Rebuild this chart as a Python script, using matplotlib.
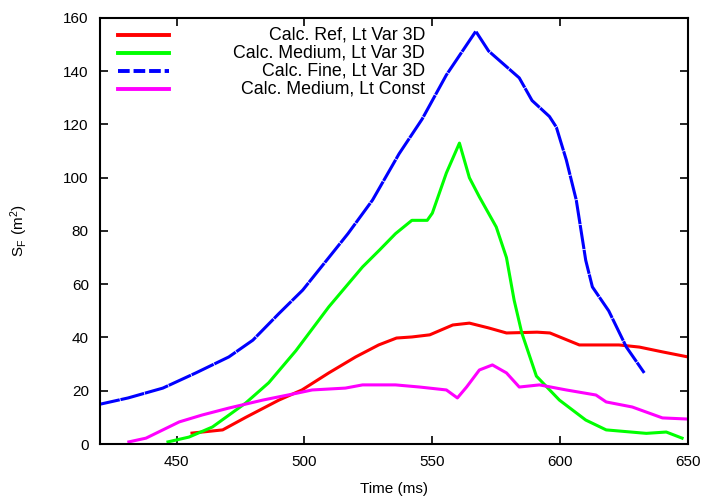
import numpy as np
import matplotlib.pyplot as plt

plt.rcParams['font.family'] = ['Liberation Sans', 'DejaVu Sans']
plt.rcParams['mathtext.fontset'] = 'custom'
plt.rcParams['mathtext.rm'] = 'Liberation Sans'

# courbes (temps en ms, surface en m2)
t_ref = [456, 468, 477, 490, 499, 509.5, 520, 529, 536, 542, 549, 558, 564.5,
         572, 579, 591, 596, 607.5, 623, 631, 640, 650]
s_ref = [4.1, 5.3, 10, 16.5, 20.3, 26.7, 32.7, 37.2, 39.8, 40.2, 41, 44.7, 45.4,
         43.6, 41.7, 42, 41.7, 37.2, 37.2, 36.4, 34.6, 32.7]

t_med = [446.6, 454.8, 464, 477, 486, 496.6, 509.5, 522.7, 529.4, 535.6, 542, 548,
         550, 555.5, 560.6, 564.5, 568.4, 575, 579, 582, 585, 590.7, 599.7, 610,
         618, 633.7, 641.5, 647.7]
s_med = [0.8, 2.6, 6.4, 15.4, 23, 35, 51.5, 66.5, 72.9, 79, 84, 84, 86.7, 101.8,
         113, 100, 92.8, 81.5, 70, 54, 41.7, 25.5, 16.5, 9, 5.3, 4, 4.5, 2.2]

t_fine = [418.4, 431, 444.6, 457.5, 470.4, 479.8, 490, 499.3, 509.5, 517, 526.6,
          537, 546, 555.5, 567, 572, 584, 589, 595.8, 598.5, 602.4, 606.3, 610,
          612.6, 619, 625.9, 632.9]
s_fine = [14.6, 17.3, 21, 26.7, 32.7, 39, 49, 57.8, 70, 79, 91.6, 109, 122, 138.6,
          155, 147.6, 137.5, 129, 123, 119, 106.7, 91.6, 69, 59, 50, 36.4, 26.7]

t_const = [431.3, 438, 444.6, 451, 460, 470.4, 483.7, 496.6, 503, 516, 522.7,
           535.6, 545, 555.5, 559.8, 563.4, 568.4, 573.5, 579, 584, 591.9, 602.4,
           614, 618, 628.2, 640, 649.3]
s_const = [0.8, 2.2, 5.3, 8.3, 10.9, 13.5, 16.5, 19, 20.3, 21, 22.2, 22.2, 21.4,
           20.3, 17.3, 21.4, 27.8, 29.7, 26.7, 21.4, 22.2, 20.3, 18.4, 15.8, 13.9,
           9.8, 9.4]

labels = ['Calc. Ref, Lt Var 3D', 'Calc. Medium, Lt Var 3D',
          'Calc. Fine, Lt Var 3D', 'Calc. Medium, Lt Const']

fig = plt.figure(figsize=(7.1, 4.99), dpi=100)
ax = fig.add_axes([0.1408, 0.1102, 0.8282, 0.8538])

lw = 2.2
l1, = ax.plot(t_ref, s_ref, color='#ff0000', lw=lw)
l2, = ax.plot(t_med, s_med, color='#00ff00', lw=lw)
l3, = ax.plot(t_fine, s_fine, color='#0000ff', lw=lw, dashes=(8, 0.25))
l4, = ax.plot(t_const, s_const, color='#ff00ff', lw=lw)

ax.set_xlim(420, 650)
ax.set_ylim(0, 160)
ax.set_xticks([450, 500, 550, 600, 650])
ax.set_yticks(np.arange(0, 161, 20))
ax.tick_params(direction='in', length=6, width=1.2, top=True, right=True,
               labelsize=11, pad=8)
for s in ax.spines.values():
    s.set_linewidth(1.5)

ax.set_xlabel('Time (ms)', fontsize=11, labelpad=9)
ax.set_ylabel(r'$\mathregular{S_F\ (m^2)}$', fontsize=11, labelpad=24)

# légende à la gnuplot: trait à gauche, texte aligné à droite
handles = [l1, l2, l3, l4]
for i, (h, lab) in enumerate(zip(handles, labels)):
    y = 1 - (35 - 18 + i * 18) / 426.0
    ln, = ax.plot([0.03, 0.118], [y, y], transform=ax.transAxes,
                  color=h.get_color(), lw=2.8, clip_on=False)
    if i == 2:
        ln.set_dashes((3, 1))
    ax.text(0.553, y, lab, transform=ax.transAxes, ha='right', va='center',
            fontsize=12.8)

plt.savefig('out.png', dpi=100)
